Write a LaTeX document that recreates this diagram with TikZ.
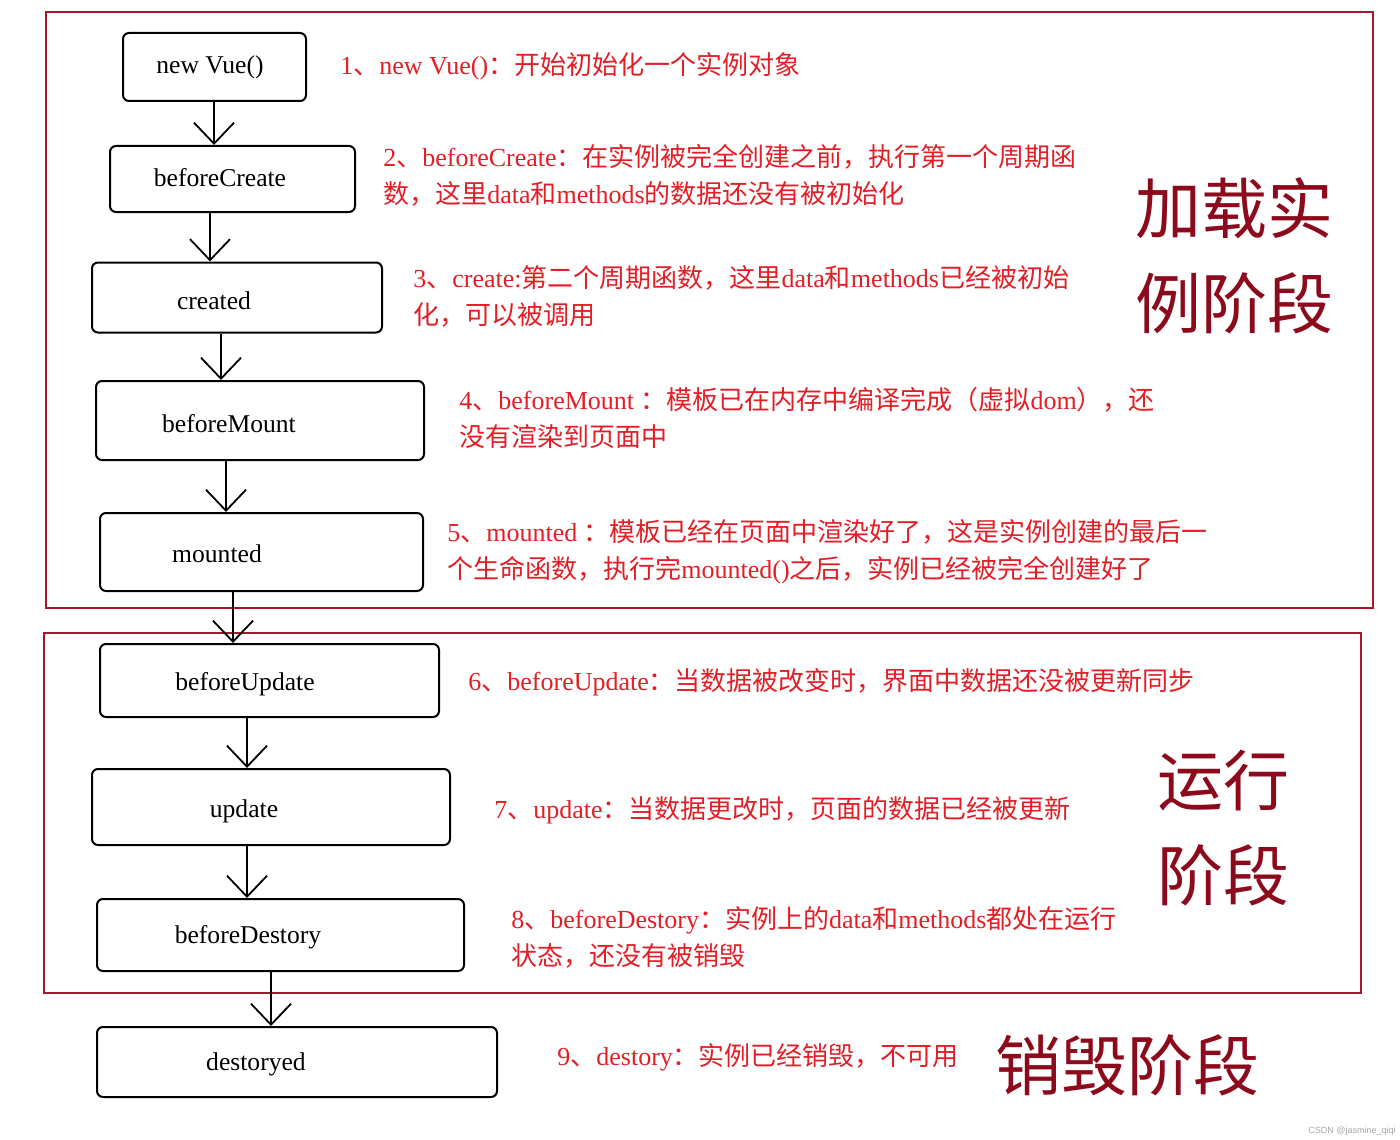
\documentclass[tikz,border=0pt]{standalone}
\usepackage{fontspec}
\setmainfont{Liberation Serif}
\newfontfamily\cjk{Noto Sans CJK SC}
\newfontfamily\lat{Liberation Serif}
\newfontfamily\wmfont{Liberation Sans}
\usetikzlibrary{arrows.meta}
\definecolor{notered}{RGB}{228,30,38}
\definecolor{bigred}{RGB}{140,10,28}
\definecolor{framered}{RGB}{168,22,42}
% automatic switch between Latin and CJK fonts
\XeTeXinterchartokenstate=1
\newXeTeXintercharclass\CJKcls
\newcount\cjkc
\cjkc="3000 \loop \XeTeXcharclass\cjkc=\CJKcls \advance\cjkc by 1 \ifnum\cjkc<"3040 \repeat
\cjkc="4E00 \loop \XeTeXcharclass\cjkc=\CJKcls \advance\cjkc by 1 \ifnum\cjkc<"A000 \repeat
\cjkc="FF00 \loop \XeTeXcharclass\cjkc=\CJKcls \advance\cjkc by 1 \ifnum\cjkc<"FFF0 \repeat
\XeTeXinterchartoks 0 \CJKcls = {\cjk}
\XeTeXinterchartoks 4095 \CJKcls = {\cjk}
\XeTeXinterchartoks \CJKcls 0 = {\lat}
\XeTeXinterchartoks \CJKcls 4095 = {\lat}
\begin{document}
\begin{tikzpicture}[x=0.5pt,y=-0.5pt,
  box/.style={draw=black, line width=1pt, rounded corners=3pt, inner sep=0pt},
  btxt/.style={font=\fontsize{12.8}{15}\selectfont, inner sep=0pt, anchor=base},
  note/.style={text=notered, font=\fontsize{13}{18.5}\selectfont, align=left, anchor=west, inner sep=0pt},
  big/.style={text=bigred, font=\fontsize{33}{47.5}\selectfont, align=left, anchor=west, inner sep=0pt},
  frame/.style={draw=framered, line width=1pt},
  arr/.style={draw=black, line width=0.9pt, -{Straight Barb[length=10.5pt,width=20pt]}}
]
\useasboundingbox (0,0) rectangle (1400,1139);
\fill[white] (0,0) rectangle (1400,1139);

% stage frames
\draw[frame] (46,12) rectangle (1373,608);
\draw[frame] (44,633) rectangle (1361,993);

% boxes
\node[box, minimum width=91.5pt, minimum height=34pt] (b1) at (214.5,67) {};
\node[box, minimum width=122.5pt, minimum height=33pt] (b2) at (232.5,179) {};
\node[box, minimum width=145pt, minimum height=35pt] (b3) at (237,297.5) {};
\node[box, minimum width=164pt, minimum height=39.5pt] (b4) at (260,420.5) {};
\node[box, minimum width=161.5pt, minimum height=39pt] (b5) at (261.5,552) {};
\node[box, minimum width=169.5pt, minimum height=36.5pt] (b6) at (269.5,680.5) {};
\node[box, minimum width=179pt, minimum height=38pt] (b7) at (271,807) {};
\node[box, minimum width=183.5pt, minimum height=36pt] (b8) at (280.5,935) {};
\node[box, minimum width=200pt, minimum height=35pt] (b9) at (297,1062) {};

% box texts
\node[btxt] (t1) at (210,74) {new Vue()};
\node[btxt] (t2) at (220,187) {beforeCreate};
\node[btxt] (t3) at (214,309) {created};
\node[btxt] (t4) at (229,432) {beforeMount};
\node[btxt] (t5) at (217,562) {mounted};
\node[btxt] (t6) at (245,690) {beforeUpdate};
\node[btxt] (t7) at (244,817) {update};
\node[btxt] (t8) at (248,943) {beforeDestory};
\node[btxt] (t9) at (256,1070) {destoryed};

% arrows
\coordinate (x1) at (214,0);
\coordinate (x2) at (210,0);
\coordinate (x3) at (221,0);
\coordinate (x4) at (226,0);
\coordinate (x5) at (233,0);
\coordinate (x6) at (247,0);
\coordinate (x7) at (247,0);
\coordinate (x8) at (271,0);
\draw[arr] (b1.south -| x1) -- (b2.north -| x1);
\draw[arr] (b2.south -| x2) -- (b3.north -| x2);
\draw[arr] (b3.south -| x3) -- (b4.north -| x3);
\draw[arr] (b4.south -| x4) -- (b5.north -| x4);
\draw[arr] (b5.south -| x5) -- (b6.north -| x5);
\draw[arr] (b6.south -| x6) -- (b7.north -| x6);
\draw[arr] (b7.south -| x7) -- (b8.north -| x7);
\draw[arr] (b8.south -| x8) -- (b9.north -| x8);

% notes
\node[note] (n1) at (340,66) {1、new Vue()：开始初始化一个实例对象};
\node[note] (n2) at (383,175.5) {2、beforeCreate：在实例被完全创建之前，执行第一个周期函\\数，这里data和methods的数据还没有被初始化};
\node[note] (n3) at (413,296.5) {3、create:第二个周期函数，这里data和methods已经被初始\\化，可以被调用};
\node[note] (n4) at (459,418) {4、beforeMount ：模板已在内存中编译完成（虚拟dom），还\\没有渲染到页面中};
\node[note] (n5) at (447,552) {5、mounted ：模板已经在页面中渲染好了，这是实例创建的最后一\\个生命函数，执行完mounted()之后，实例已经被完全创建好了};
\node[note] (n6) at (468,682) {6、beforeUpdate：当数据被改变时，界面中数据还没被更新同步};
\node[note] (n7) at (494,810) {7、update：当数据更改时，页面的数据已经被更新};
\node[note] (n8) at (511,937) {8、beforeDestory：实例上的data和methods都处在运行\\状态，还没有被销毁};
\node[note] (n9) at (557,1057) {9、destory：实例已经销毁，不可用};

% stage titles
\node[big] (s1) at (1135,255.5) {加载实\\例阶段};
\node[big] (s2) at (1157,828) {运行\\阶段};
\node[big] (s3) at (995,1065) {销毁阶段};

% watermark
\node[anchor=east, inner sep=0pt, text=black!35, font=\wmfont\fontsize{4.5}{5}\selectfont] (wm) at (1396,1131) {CSDN @jasmine\_qiqi};
\end{tikzpicture}
\end{document}
